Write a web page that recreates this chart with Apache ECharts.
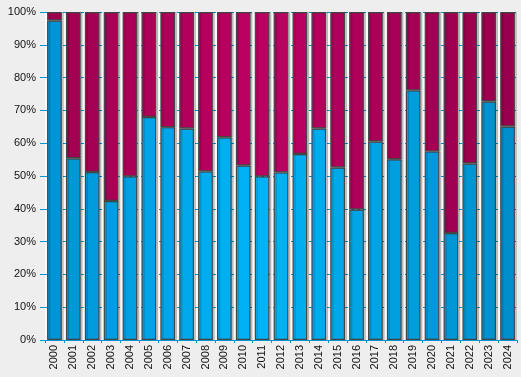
<!DOCTYPE html>
<html>
<head>
    <meta charset="UTF-8">
    <title>Stacked share by year</title>
    <script src="https://cdn.jsdelivr.net/npm/echarts@6/dist/echarts.min.js"></script>
</head>

<style>
    html, body {
        margin: 0;
        padding: 0;
        background-color: #eeeeee;
    }

    #chart {
        width: 521px;
        height: 377px;
    }
</style>

<body>
<div id="chart"></div>

<script>
// years and share of the lower (blue) part, in percent
const years = ['2000', '2001', '2002', '2003', '2004', '2005', '2006', '2007', '2008', '2009',
    '2010', '2011', '2012', '2013', '2014', '2015', '2016', '2017', '2018', '2019',
    '2020', '2021', '2022', '2023', '2024'];
const lowerShare = [97.4, 55.4, 51.2, 42.4, 49.9, 68.0, 64.9, 64.5, 51.4, 61.8,
    53.2, 49.9, 51.1, 56.7, 64.5, 52.6, 39.8, 60.5, 55.1, 76.1,
    57.5, 32.6, 53.8, 72.7, 65.1];
const upperShare = lowerShare.map(v => +(100 - v).toFixed(1));
const yTicks = [0, 10, 20, 30, 40, 50, 60, 70, 80, 90, 100];

// light sweep across the plot: dark at both ends, brightest a bit left of centre
function mix(a, b, t) {
    const pa = [1, 3, 5].map(i => parseInt(a.substr(i, 2), 16));
    const pb = [1, 3, 5].map(i => parseInt(b.substr(i, 2), 16));
    return 'rgb(' + pa.map((v, i) => Math.round(v + (pb[i] - v) * t)).join(',') + ')';
}
function sweep(dark, light, darkRight) {
    return function (p) {
        const t = p.dataIndex / (years.length - 1);
        if (t < 0.45) return mix(dark, light, t / 0.45);
        return mix(light, darkRight, (t - 0.45) / 0.55);
    };
}

const barStyle = {
    borderColor: '#454545',
    borderWidth: 1.2,
    shadowColor: 'rgba(0, 0, 0, 0.18)',
    shadowBlur: 0,
    shadowOffsetX: 2,
    shadowOffsetY: 0
};

const chart = echarts.init(document.getElementById('chart'));
const option = {
    backgroundColor: '#eeeeee',
    animation: false,
    grid: {
        left: 45,
        right: 4,
        top: 12,
        bottom: 37,
        show: true,
        backgroundColor: '#fafafa',
        borderWidth: 0
    },
    xAxis: {
        type: 'category',
        data: years,
        axisLine: { show: true, lineStyle: { color: '#0095d5', width: 1 } },
        axisTick: { show: true, length: 3, lineStyle: { color: '#0095d5' } },
        axisLabel: {
            rotate: 90,
            margin: 5,
            color: '#111',
            fontSize: 11,
            fontFamily: 'Liberation Sans, Arial, sans-serif'
        }
    },
    yAxis: {
        type: 'value',
        min: yTicks[0],
        max: yTicks[yTicks.length - 1],
        interval: 10,
        axisLine: { show: false },
        axisTick: { show: true, length: 5, lineStyle: { color: '#0095d5' } },
        splitLine: { show: true, lineStyle: { color: '#0095d5', type: [3, 3], width: 1 } },
        axisLabel: {
            formatter: '{value}%',
            margin: 9,
            color: '#111',
            fontSize: 11,
            fontFamily: 'Liberation Sans, Arial, sans-serif'
        }
    },
    series: [
        {
            type: 'bar',
            stack: 'share',
            data: lowerShare,
            barCategoryGap: '22%',
            itemStyle: Object.assign({ color: sweep('#0095d6', '#00b4f7', '#008fcc') }, barStyle)
        },
        {
            type: 'bar',
            stack: 'share',
            data: upperShare,
            barCategoryGap: '22%',
            itemStyle: Object.assign({ color: sweep('#9f004e', '#bd0062', '#98004d') }, barStyle)
        }
    ]
};
chart.setOption(option);
</script>
</body>
</html>
